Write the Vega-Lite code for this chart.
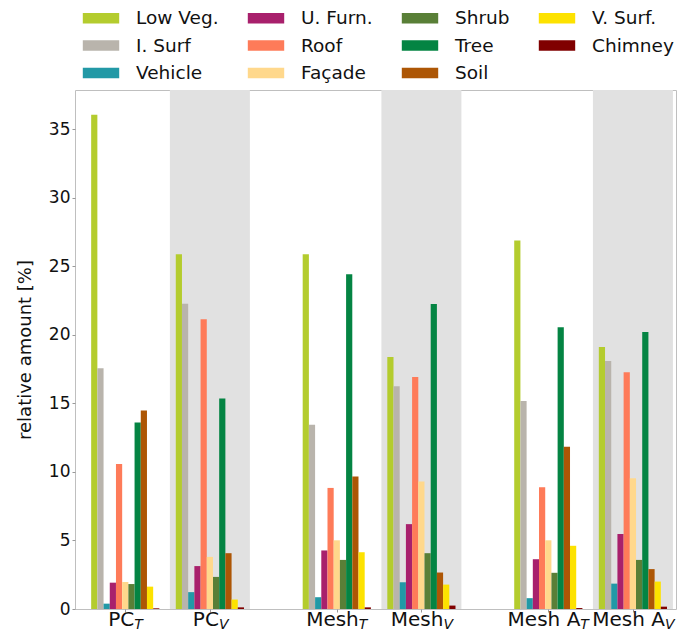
{
  "$schema": "https://vega.github.io/schema/vega-lite/v6.json",
  "width": 601,
  "height": 519,
  "autosize": {"type": "none"},
  "padding": {"left": 75, "top": 90, "right": 14, "bottom": 22},
  "background": "white",
  "config": {
    "font": "DejaVu Sans",
    "view": {"stroke": "#bfbfbf", "strokeWidth": 1},
    "axis": {"grid": false, "domain": false, "labelFont": "DejaVu Sans", "titleFont": "DejaVu Sans", "labelColor": "#111", "titleColor": "#111", "tickColor": "#999", "titleFontWeight": "normal"}
  },
  "datasets": {
    "groups": [
      {"group": "PC_T", "main": "PC", "sub": "T", "pos": 0, "shade": false},
      {"group": "PC_V", "main": "PC", "sub": "V", "pos": 1, "shade": true},
      {"group": "Mesh_T", "main": "Mesh", "sub": "T", "pos": 2.5, "shade": false},
      {"group": "Mesh_V", "main": "Mesh", "sub": "V", "pos": 3.5, "shade": true},
      {"group": "Mesh A_T", "main": "Mesh A", "sub": "T", "pos": 5, "shade": false},
      {"group": "Mesh A_V", "main": "Mesh A", "sub": "V", "pos": 6, "shade": true}
    ],
    "bars": [
      {"group": "PC_T", "cls": "Low Veg.", "value": 36.05},
      {"group": "PC_T", "cls": "I. Surf", "value": 17.56},
      {"group": "PC_T", "cls": "Vehicle", "value": 0.39},
      {"group": "PC_T", "cls": "U. Furn.", "value": 1.92},
      {"group": "PC_T", "cls": "Roof", "value": 10.58},
      {"group": "PC_T", "cls": "Façade", "value": 1.97},
      {"group": "PC_T", "cls": "Shrub", "value": 1.82},
      {"group": "PC_T", "cls": "Tree", "value": 13.61},
      {"group": "PC_T", "cls": "Soil", "value": 14.48},
      {"group": "PC_T", "cls": "V. Surf.", "value": 1.63},
      {"group": "PC_T", "cls": "Chimney", "value": 0.05},
      {"group": "PC_V", "cls": "Low Veg.", "value": 25.87},
      {"group": "PC_V", "cls": "I. Surf", "value": 22.27},
      {"group": "PC_V", "cls": "Vehicle", "value": 1.23},
      {"group": "PC_V", "cls": "U. Furn.", "value": 3.13},
      {"group": "PC_V", "cls": "Roof", "value": 21.13},
      {"group": "PC_V", "cls": "Façade", "value": 3.80},
      {"group": "PC_V", "cls": "Shrub", "value": 2.34},
      {"group": "PC_V", "cls": "Tree", "value": 15.36},
      {"group": "PC_V", "cls": "Soil", "value": 4.07},
      {"group": "PC_V", "cls": "V. Surf.", "value": 0.69},
      {"group": "PC_V", "cls": "Chimney", "value": 0.12},
      {"group": "Mesh_T", "cls": "Low Veg.", "value": 25.87},
      {"group": "Mesh_T", "cls": "I. Surf", "value": 13.44},
      {"group": "Mesh_T", "cls": "Vehicle", "value": 0.86},
      {"group": "Mesh_T", "cls": "U. Furn.", "value": 4.27},
      {"group": "Mesh_T", "cls": "Roof", "value": 8.83},
      {"group": "Mesh_T", "cls": "Façade", "value": 5.01},
      {"group": "Mesh_T", "cls": "Shrub", "value": 3.58},
      {"group": "Mesh_T", "cls": "Tree", "value": 24.41},
      {"group": "Mesh_T", "cls": "Soil", "value": 9.67},
      {"group": "Mesh_T", "cls": "V. Surf.", "value": 4.14},
      {"group": "Mesh_T", "cls": "Chimney", "value": 0.12},
      {"group": "Mesh_V", "cls": "Low Veg.", "value": 18.37},
      {"group": "Mesh_V", "cls": "I. Surf", "value": 16.25},
      {"group": "Mesh_V", "cls": "Vehicle", "value": 1.95},
      {"group": "Mesh_V", "cls": "U. Furn.", "value": 6.19},
      {"group": "Mesh_V", "cls": "Roof", "value": 16.92},
      {"group": "Mesh_V", "cls": "Façade", "value": 9.30},
      {"group": "Mesh_V", "cls": "Shrub", "value": 4.07},
      {"group": "Mesh_V", "cls": "Tree", "value": 22.24},
      {"group": "Mesh_V", "cls": "Soil", "value": 2.66},
      {"group": "Mesh_V", "cls": "V. Surf.", "value": 1.78},
      {"group": "Mesh_V", "cls": "Chimney", "value": 0.25},
      {"group": "Mesh A_T", "cls": "Low Veg.", "value": 26.88},
      {"group": "Mesh A_T", "cls": "I. Surf", "value": 15.17},
      {"group": "Mesh A_T", "cls": "Vehicle", "value": 0.79},
      {"group": "Mesh A_T", "cls": "U. Furn.", "value": 3.63},
      {"group": "Mesh A_T", "cls": "Roof", "value": 8.88},
      {"group": "Mesh A_T", "cls": "Façade", "value": 5.01},
      {"group": "Mesh A_T", "cls": "Shrub", "value": 2.64},
      {"group": "Mesh A_T", "cls": "Tree", "value": 20.54},
      {"group": "Mesh A_T", "cls": "Soil", "value": 11.84},
      {"group": "Mesh A_T", "cls": "V. Surf.", "value": 4.61},
      {"group": "Mesh A_T", "cls": "Chimney", "value": 0.07},
      {"group": "Mesh A_V", "cls": "Low Veg.", "value": 19.11},
      {"group": "Mesh A_V", "cls": "I. Surf", "value": 18.08},
      {"group": "Mesh A_V", "cls": "Vehicle", "value": 1.85},
      {"group": "Mesh A_V", "cls": "U. Furn.", "value": 5.47},
      {"group": "Mesh A_V", "cls": "Roof", "value": 17.26},
      {"group": "Mesh A_V", "cls": "Façade", "value": 9.54},
      {"group": "Mesh A_V", "cls": "Shrub", "value": 3.58},
      {"group": "Mesh A_V", "cls": "Tree", "value": 20.20},
      {"group": "Mesh A_V", "cls": "Soil", "value": 2.91},
      {"group": "Mesh A_V", "cls": "V. Surf.", "value": 2.00},
      {"group": "Mesh A_V", "cls": "Chimney", "value": 0.17}
    ]
  },
  "encoding": {
    "x": {
      "field": "pos",
      "type": "quantitative",
      "scale": {"domain": [-0.535, 6.45], "nice": false, "zero": false},
      "axis": {"values": [0, 1, 2.5, 3.5, 5, 6], "labels": false, "tickSize": 3, "title": null}
    }
  },
  "layer": [
    {
      "data": {"name": "groups"},
      "transform": [{"filter": "datum.shade"}],
      "mark": {"type": "bar", "width": 80, "color": "#e1e1e1", "clip": true},
      "encoding": {
        "y": {"datum": 37.85, "type": "quantitative", "scale": {"domain": [0, 37.85], "nice": false}},
        "y2": {"datum": 0}
      }
    },
    {
      "data": {"name": "bars"},
      "transform": [{"lookup": "group", "from": {"data": {"name": "groups"}, "key": "group", "fields": ["pos"]}}],
      "mark": {
        "type": "bar",
        "width": 6.2,
        "xOffset": {"expr": "indexof(['Low Veg.', 'I. Surf', 'Vehicle', 'U. Furn.', 'Roof', 'Façade', 'Shrub', 'Tree', 'Soil', 'V. Surf.', 'Chimney'], datum.cls) * 6.2 - 31"}
      },
      "encoding": {
        "y": {
          "field": "value",
          "type": "quantitative",
          "stack": null,
          "scale": {"domain": [0, 37.85], "nice": false},
          "axis": {"values": [0, 5, 10, 15, 20, 25, 30, 35], "title": "relative amount [%]", "labelFontSize": 17, "titleFontSize": 18, "tickSize": 3, "labelPadding": 2, "titlePadding": 14}
        },
        "color": {
          "field": "cls",
          "type": "nominal",
          "scale": {
            "domain": ["Low Veg.", "I. Surf", "Vehicle", "U. Furn.", "Roof", "Façade", "Shrub", "Tree", "Soil", "V. Surf.", "Chimney"],
            "range": ["#b4cc2e", "#b9b4ac", "#2299a6", "#a8206c", "#fe7b59", "#ffd88c", "#597f37", "#048443", "#ad5605", "#fde200", "#800000"]
          },
          "legend": {
            "title": null,
            "orient": "none",
            "legendX": 13,
            "legendY": -85,
            "columns": 4,
            "symbolType": "M-1.4,-0.4H1.4V0.4H-1.4Z",
            "symbolSize": 676,
            "symbolStrokeWidth": 0,
            "labelFontSize": 18.5,
            "labelFont": "DejaVu Sans",
            "labelColor": "#111",
            "labelOffset": 22,
            "columnPadding": 28,
            "rowPadding": 4.5
          }
        }
      }
    },
    {
      "data": {"name": "groups"},
      "mark": {"type": "text", "align": "right", "baseline": "alphabetic", "fontSize": 20, "font": "DejaVu Sans", "color": "#111", "dy": 17, "dx": {"expr": "datum.main == 'PC' ? 9 : (datum.main == 'Mesh' ? 22 : 32)"}},
      "encoding": {
        "y": {"datum": 0, "type": "quantitative"},
        "text": {"field": "main"}
      }
    },
    {
      "data": {"name": "groups"},
      "mark": {"type": "text", "align": "left", "baseline": "alphabetic", "fontSize": 14, "fontStyle": "italic", "font": "DejaVu Sans", "color": "#111", "dy": 20, "dx": {"expr": "datum.main == 'PC' ? 9 : (datum.main == 'Mesh' ? 22 : 32)"}},
      "encoding": {
        "y": {"datum": 0, "type": "quantitative"},
        "text": {"field": "sub"}
      }
    }
  ]
}
